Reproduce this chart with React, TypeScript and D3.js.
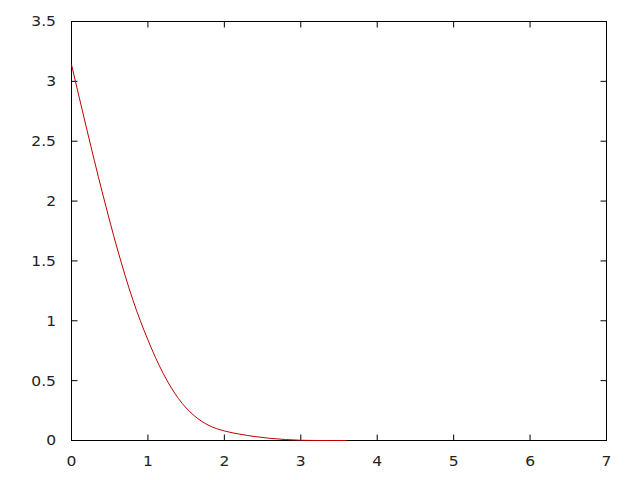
import React from "react";
import * as d3 from "d3";

const xValues = [0, 0.2, 0.4, 0.6, 0.8, 1.0, 1.2, 1.4, 1.6, 1.8, 2.0, 2.2, 2.4, 2.6, 2.8, 3.0, 3.2, 3.4, 3.6];
const yValues = [3.14, 2.6, 2.08, 1.6, 1.18, 0.84, 0.56, 0.35, 0.21, 0.125, 0.08, 0.053, 0.033, 0.018, 0.008, 0.002, 0, 0, 0];
const xTicks = [0, 1, 2, 3, 4, 5, 6, 7];
const yTicks = [0, 0.5, 1, 1.5, 2, 2.5, 3, 3.5];
const yTickLabels = ["0", "0.5", "1", "1.5", "2", "2.5", "3", "3.5"];

export default function App() {
  const left = 71.5, right = 606.5, top = 21.5, bottom = 440.5;
  const x = d3.scaleLinear().domain([0, 7]).range([left, right]);
  const y = d3.scaleLinear().domain([0, 3.5]).range([bottom, top]);
  const pts = xValues.map((v, i) => [v, yValues[i]] as [number, number]);
  const line = d3.line<[number, number]>().x((d) => x(d[0])).y((d) => y(d[1])).curve(d3.curveMonotoneX);
  const font = "'DejaVu Sans', sans-serif";
  return (
    <svg width={640} height={480} style={{ position: "absolute", left: 0, top: 0, background: "#fff" }}>
      <rect x={0} y={0} width={640} height={480} fill="#fff" />
      {yTicks.map((t, i) => (
        <g key={"y" + i}>
          <line x1={left} x2={left + 6} y1={y(t)} y2={y(t)} stroke="#000" />
          <line x1={right} x2={right - 6} y1={y(t)} y2={y(t)} stroke="#000" />
          <g transform={`translate(56,${y(t)}) scale(1.15,1)`}>
            <text x={0} y={0} dy="0.36em" textAnchor="end" fontFamily={font} fontSize={13.5} fill="#222">
              {yTickLabels[i]}
            </text>
          </g>
        </g>
      ))}
      {xTicks.map((t, i) => (
        <g key={"x" + i}>
          <line x1={x(t)} x2={x(t)} y1={bottom} y2={bottom - 6} stroke="#000" />
          <line x1={x(t)} x2={x(t)} y1={top} y2={top + 6} stroke="#000" />
          <g transform={`translate(${x(t)},461) scale(1.15,1)`}>
            <text x={0} y={0} dy="0.36em" textAnchor="middle" fontFamily={font} fontSize={13.5} fill="#222">
              {String(t)}
            </text>
          </g>
        </g>
      ))}
      <rect x={left} y={top} width={right - left} height={bottom - top} fill="none" stroke="#000" />
      <path d={line(pts) || ""} fill="none" stroke="#c00000" strokeWidth={1} />
    </svg>
  );
}
